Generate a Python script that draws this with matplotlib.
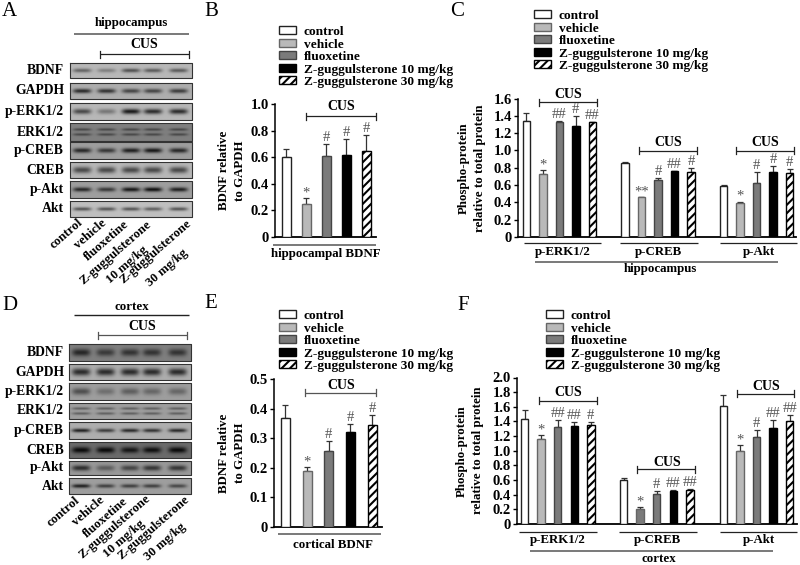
#!/usr/bin/python
# Figure with western blots and bar charts (hippocampus / cortex)
import numpy as np
import matplotlib
matplotlib.use('Agg')
import matplotlib.pyplot as plt

plt.rcParams['font.family'] = ['Liberation Serif', 'DejaVu Serif']
plt.rcParams['font.weight'] = 'bold'
plt.rcParams['hatch.linewidth'] = 1.5

W, H = 800, 565

grupos = ['control', 'vehicle', 'fluoxetine', 'Z-guggulsterone 10 mg/kg', 'Z-guggulsterone 30 mg/kg']
proteinas = ['BDNF', 'GAPDH', 'p-ERK1/2', 'ERK1/2', 'p-CREB', 'CREB', 'p-Akt', 'Akt']
fosfo = ['p-ERK1/2', 'p-CREB', 'p-Akt']

# Datos
b_val = [0.60, 0.245, 0.61, 0.62, 0.645]
b_err = [0.065, 0.045, 0.09, 0.115, 0.12]
b_sig = ['', '*', '#', '#', '#']

c_val = [[1.34, 0.725, 1.33, 1.285, 1.325],
         [0.855, 0.46, 0.66, 0.765, 0.755],
         [0.59, 0.39, 0.625, 0.755, 0.745]]
c_err = [[0.09, 0.05, 0.015, 0.115, 0.005],
         [0.015, 0.005, 0.02, 0.003, 0.045],
         [0.015, 0.02, 0.125, 0.065, 0.045]]
c_sig = [['', '*', '##', '#', '##'],
         ['', '**', '#', '##', '#'],
         ['', '*', '#', '#', '#']]

e_val = [0.368, 0.188, 0.256, 0.32, 0.344]
e_err = [0.044, 0.015, 0.036, 0.028, 0.035]
e_sig = ['', '*', '#', '#', '#']

f_val = [[1.44, 1.165, 1.325, 1.34, 1.355],
         [0.595, 0.205, 0.415, 0.445, 0.465],
         [1.615, 1.0, 1.19, 1.315, 1.405]]
f_err = [[0.115, 0.05, 0.095, 0.05, 0.035],
         [0.03, 0.025, 0.03, 0.015, 0.015],
         [0.15, 0.075, 0.09, 0.105, 0.085]]
f_sig = [['', '*', '##', '##', '#'],
         ['', '*', '#', '##', '##'],
         ['', '*', '#', '##', '##']]

# Oscuridad de cada banda (0 a 1) por carril
a_bandas = [[0.45, 0.3, 0.55, 0.5, 0.5],
            [0.75, 0.7, 0.6, 0.6, 0.65],
            [0.6, 0.35, 0.85, 0.75, 0.75],
            [0.45, 0.45, 0.45, 0.45, 0.45],
            [0.75, 0.65, 0.8, 0.85, 0.75],
            [0.6, 0.6, 0.6, 0.6, 0.6],
            [0.75, 0.65, 0.85, 0.9, 0.8],
            [0.55, 0.55, 0.55, 0.5, 0.55]]
a_fondo = [0.72, 0.68, 0.72, 0.5, 0.62, 0.72, 0.62, 0.75]
d_bandas = [[0.7, 0.55, 0.6, 0.6, 0.6],
            [0.75, 0.75, 0.75, 0.75, 0.75],
            [0.5, 0.3, 0.4, 0.35, 0.35],
            [0.4, 0.4, 0.4, 0.4, 0.4],
            [0.8, 0.65, 0.75, 0.7, 0.75],
            [0.9, 0.9, 0.8, 0.85, 0.9],
            [0.7, 0.4, 0.55, 0.65, 0.65],
            [0.8, 0.6, 0.6, 0.6, 0.55]]
d_fondo = [0.5, 0.68, 0.62, 0.62, 0.68, 0.42, 0.6, 0.62]
grosor_a = [2.0, 2.2, 2.6, 1.3, 2.4, 3.2, 2.2, 1.8]
grosor_d = [3.6, 3.6, 3.4, 1.3, 1.9, 3.0, 2.8, 1.9]

colores = ['white', '#b9b9b9', '#7b7b7b', 'black', 'white']
# en F, p-CREB el vehicle esta mas oscuro
colores_creb_f = ['white', '#7b7b7b', '#7b7b7b', 'black', 'white']
hatches = [None, None, None, None, '////']
bordes = ['#222222', '#666666', '#444444', 'black', 'black']

fig = plt.figure(figsize=(W / 100, H / 100), dpi=100)
over = fig.add_axes([0, 0, 1, 1], zorder=5)
over.set_xlim(0, W)
over.set_ylim(H, 0)
over.axis('off')
over.patch.set_alpha(0)


def txt(x, y, s, size=9.3, ha='center', **kw):
    kw.setdefault('va', 'center')
    over.text(x, y, s, fontsize=size, ha=ha, **kw)


def hline(x0, x1, y, color='#222222', lw=0.9):
    over.plot([x0, x1], [y, y], color=color, lw=lw, solid_capstyle='butt')


def cus(x0, x1, y, ty, tx, color='#222222'):
    hline(x0, x1, y, color, 0.9)
    for x in (x0, x1):
        over.plot([x, x], [y - 3.5, y + 3.5], color=color, lw=0.9)
    txt(tx, ty, 'CUS', size=10)


def panel_ax(x0, x1, y0, ytop, ymax, ticks, ylabels, ylab, ylab_x):
    ax = fig.add_axes([x0 / W, 1 - y0 / H, (x1 - x0) / W, (y0 - ytop) / H])
    ax.set_xlim(x0, x1)
    ax.set_ylim(0, ymax)
    ax.patch.set_alpha(0)
    for s in ('top', 'right'):
        ax.spines[s].set_visible(False)
    ax.spines['left'].set_linewidth(1.1)
    ax.spines['bottom'].set_linewidth(1.3)
    ax.set_xticks([])
    ax.set_yticks(ticks)
    ax.set_yticklabels(ylabels, fontsize=10.5, fontweight='bold')
    ax.tick_params(axis='y', length=3, width=1, pad=1.5)
    over.text(ylab_x, (y0 + ytop) / 2, ylab, rotation=90, ha='center', va='center',
              fontsize=9.3, linespacing=1.4, multialignment='center')
    return ax


def barras(ax, xs, vals, errs, sigs, w, fills=colores, sig_size=10.5):
    out = []
    for x, v, e, s, c, h, b in zip(xs, vals, errs, sigs, fills, hatches, bordes):
        r = ax.bar(x, v, width=w, color=c, edgecolor=b, hatch=h, linewidth=1.0, zorder=3)
        ax.errorbar(x, v, yerr=[[0], [e]], color='#333333', capsize=2.4, elinewidth=0.9,
                    capthick=0.9, zorder=2)
        out.append(r)
        if s:
            off = -1 if s.startswith('*') else 0
            ax.annotate(s, (x, v + e), xytext=(0, off), textcoords='offset points',
                        ha='center', va='bottom', fontsize=sig_size, fontweight='normal',
                        color='#555555', zorder=4)
    return out


def leyenda(handles, x, y):
    fig.legend(handles, grupos, loc='upper left', bbox_to_anchor=(x / W, 1 - y / H),
               bbox_transform=fig.transFigure, frameon=False, borderpad=0,
               borderaxespad=0, labelspacing=0.04, handlelength=1.25, handleheight=0.55,
               handletextpad=0.62, prop={'weight': 'bold', 'size': 9.6})


def blot(x0, x1, filas, bandas, fondos, grosor, label_x):
    lane = np.array([0.1, 0.3, 0.5, 0.68, 0.89])
    for i, (y0, y1) in enumerate(filas):
        ny, nx = 24, 120
        yy, xx = np.mgrid[0:ny, 0:nx]
        yy = (yy + 0.5) / ny * (y1 - y0)
        xx = (xx + 0.5) / nx
        img = np.full((ny, nx), fondos[i], dtype=float)
        mid = (y1 - y0) / 2
        centros = [mid - 2.5, mid + 2.5] if proteinas[i] == 'ERK1/2' else [mid]
        for c in centros:
            for l, d in zip(lane, bandas[i]):
                perfil = np.exp(-((xx - l) / 0.075) ** 4) * np.exp(-((yy - c) / grosor[i]) ** 2)
                img -= perfil * d * fondos[i]
        over.imshow(img, extent=[x0, x1, y1, y0], cmap='gray', vmin=0, vmax=1,
                    aspect='auto', interpolation='bilinear', zorder=1)
        over.plot([x0, x1, x1, x0, x0], [y0, y0, y1, y1, y0], color='#333333', lw=0.8, zorder=2)
        txt(label_x, (y0 + y1) / 2, proteinas[i], size=9.8, ha='right')
    over.set_xlim(0, W)
    over.set_ylim(H, 0)


def rotulos(finales):
    for x, y, s in finales:
        over.text(x, y, s, rotation=41, ha='right', va='center', fontsize=9.3,
                  rotation_mode='anchor')


# A: blot hipocampo
filas_a = [(63, 78), (83, 99), (103, 120), (123, 141), (142, 159), (162, 178), (181, 198), (201, 217)]
blot(70, 192, filas_a, a_bandas, a_fondo, grosor_a, 64)
txt(131, 23, 'hippocampus', size=9.3)
hline(74, 189, 33.5, '#555555', 1.1)
cus(100, 189, 54, 45, 144)
rotulos([(81, 221, 'control'), (105, 222, 'vehicle'), (127, 223, 'fluoxetine'),
         (150, 223, 'Z-guggulsterone'), (146, 248, '10 mg/kg'),
         (190, 222, 'Z-guggulsterone'), (186, 251, '30 mg/kg')])

# D: blot corteza
filas_d = [(344, 361), (364, 380), (383, 400), (403, 419), (422, 439), (442, 458), (461, 475), (478, 494)]
blot(69, 191, filas_d, d_bandas, d_fondo, grosor_d, 64)
txt(132, 307, 'cortex', size=9.3)
hline(74, 189, 315, '#222222', 1.0)
cus(98, 187, 335, 326, 142, '#555555')
rotulos([(78, 499, 'control'), (103, 499, 'vehicle'), (126, 500, 'fluoxetine'),
         (149, 497, 'Z-guggulsterone'), (143, 522, '10 mg/kg'),
         (188, 498, 'Z-guggulsterone'), (184, 525, '30 mg/kg')])

# B
ax = panel_ax(275, 376, 237, 104, 1.0, [0, 0.2, 0.4, 0.6, 0.8, 1.0],
              ['0', '0.2', '0.4', '0.6', '0.8', '1.0'], 'BDNF relative\nto GAPDH', 232)
h = barras(ax, [286 + 20 * i for i in range(5)], b_val, b_err, b_sig, 9)
leyenda(h, 279, 26)
cus(305.5, 375.5, 116, 107, 341.5)
hline(273, 376, 244.5, '#555555', 1.1)
txt(326, 253.5, 'hippocampal BDNF')

# C
ax = panel_ax(518, 796, 237, 98.5, 1.6, [0, 0.2, 0.4, 0.6, 0.8, 1.0, 1.2, 1.4, 1.6],
              ['0', '0.2', '0.4', '0.6', '0.8', '1.0', '1.2', '1.4', '1.6'],
              'Phospho-protein\nrelative to total protein', 472)
for j, ini in enumerate([526.3, 625, 723.7]):
    h = barras(ax, [ini + 16.5 * i for i in range(5)], c_val[j], c_err[j], c_sig[j], 7.5)
leyenda(h, 534, 10)
cus(538.5, 596.5, 102, 94.5, 568)
cus(639, 697, 150.5, 142.5, 668)
cus(735.5, 793.5, 150.5, 142.5, 765)
for k, (x0, x1) in enumerate([(524, 601), (620, 697.5), (719.5, 796.5)]):
    hline(x0, x1, 242.5)
    txt((x0 + x1) / 2 + (0 if k < 2 else 1), 252, fosfo[k])
hline(535, 778, 262, '#555555', 1.1)
txt(660, 269, 'hippocampus')

# E
ax = panel_ax(274, 382, 527, 379, 0.5, [0, 0.1, 0.2, 0.3, 0.4, 0.5],
              ['0', '0.1', '0.2', '0.3', '0.4', '0.5'], 'BDNF relative\nto GAPDH', 232)
h = barras(ax, [285.3 + 21.7 * i for i in range(5)], e_val, e_err, e_sig, 9)
leyenda(h, 279, 310)
cus(305, 375.5, 392.5, 385.5, 341, '#555555')
hline(278, 381, 533.5, '#555555', 1.1)
txt(333, 545, 'cortical BDNF')

# F
ax = panel_ax(517, 797, 524, 377.5, 2.0, [0, 0.2, 0.4, 0.6, 0.8, 1.0, 1.2, 1.4, 1.6, 1.8, 2.0],
              ['0', '0.2', '0.4', '0.6', '0.8', '1.0', '1.2', '1.4', '1.6', '1.8', '2.0'],
              'Phospho-protein\nrelative to total protein', 470)
fills_f = [colores, colores_creb_f, colores]
for j, ini in enumerate([524.5, 623.5, 723.3]):
    h = barras(ax, [ini + 16.6 * i for i in range(5)], f_val[j], f_err[j], f_sig[j], 7.5, fills_f[j])
leyenda(h, 546, 310)
cus(538.5, 596.5, 400.5, 392.5, 568)
cus(637, 695, 469, 462, 667)
cus(736.5, 794, 393.5, 386, 766)
for k, (x0, x1) in enumerate([(519, 596.5), (619, 696.5), (719.5, 796.5)]):
    hline(x0, x1, 532)
    txt((x0 + x1) / 2 + (0 if k < 2 else 1), 539.5, fosfo[k])
hline(530, 773, 551, '#555555', 1.1)
txt(659, 559, 'cortex')

# Letras de panel
for x, y, s in [(2, 11, 'A'), (204, 11, 'B'), (450, 11, 'C'), (2, 305, 'D'), (204, 303, 'E'), (457, 305, 'F')]:
    over.text(x, y, s, fontsize=15, fontweight='normal', ha='left', va='center')

fig.savefig('out.png', dpi=100)
plt.close()
